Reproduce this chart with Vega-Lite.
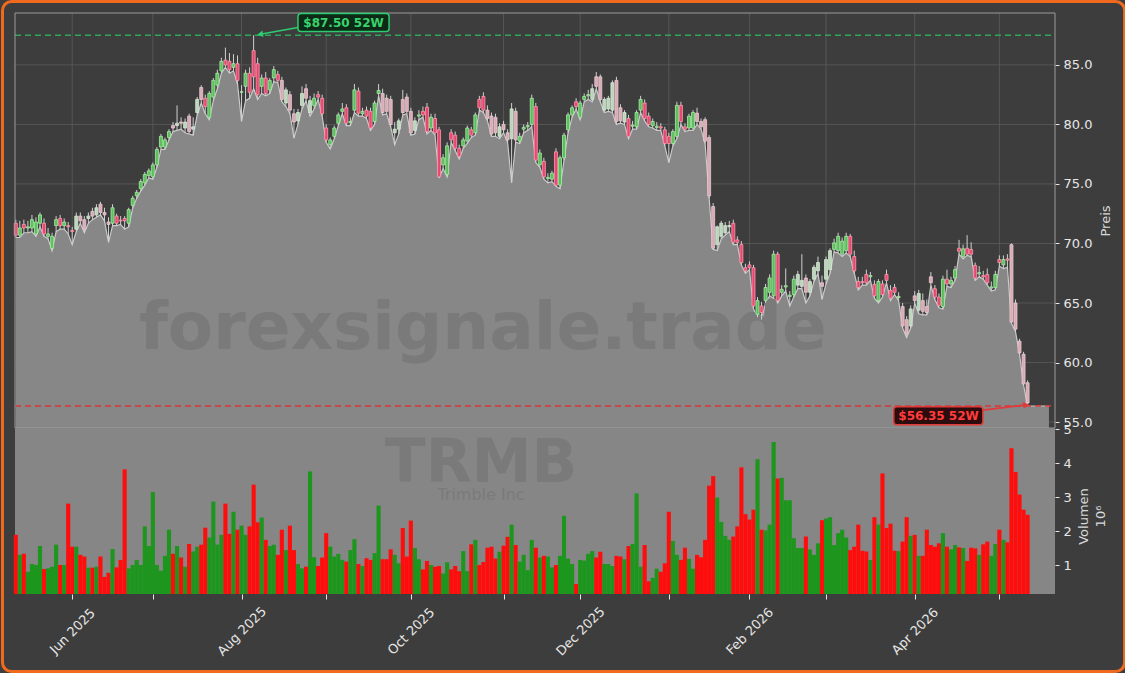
{
"$schema":"https://vega.github.io/schema/vega-lite/v6.json",
"autosize":{"type":"pad"},"padding":0,"bounds":"flush","spacing":0,
"background":"#3d3d3d",
"config":{"view":{"stroke":null},"font":"DejaVu Sans","axis":{"grid":false,"domain":false,"labelColor":"#e6e6e6","tickColor":"#e6e6e6","titleColor":"#d9d9d9","labelFontSize":13,"titleFontSize":13,"titleFontWeight":"normal","labelFont":"DejaVu Sans","titleFont":"DejaVu Sans"}},
"datasets":{
"pgrid":[{"p":55},{"p":60},{"p":65},{"p":70},{"p":75},{"p":80},{"p":85}],
"months":[{"i":14},{"i":34},{"i":56},{"i":77},{"i":98},{"i":121},{"i":140},{"i":162},{"i":182},{"i":201},{"i":223},{"i":244}],
"ohlc":[
{"i":0,"o":71.7,"h":72.0,"l":70.5,"c":70.7,"v":1.89},
{"i":1,"o":70.7,"h":71.9,"l":70.5,"c":71.3,"v":1.30},
{"i":2,"o":71.6,"h":72.0,"l":70.9,"c":71.3,"v":1.33},
{"i":3,"o":71.3,"h":71.9,"l":70.9,"c":71.4,"v":0.80},
{"i":4,"o":71.3,"h":72.4,"l":71.0,"c":72.0,"v":1.03},
{"i":5,"o":70.8,"h":72.2,"l":70.6,"c":71.8,"v":1.00},
{"i":6,"o":71.7,"h":72.6,"l":71.4,"c":72.4,"v":1.56},
{"i":7,"o":71.7,"h":72.1,"l":70.6,"c":70.8,"v":0.88},
{"i":8,"o":70.6,"h":71.3,"l":70.4,"c":70.8,"v":0.90},
{"i":9,"o":69.6,"h":70.9,"l":69.4,"c":70.6,"v":0.95},
{"i":10,"o":71.5,"h":72.3,"l":71.0,"c":72.0,"v":1.60},
{"i":11,"o":72.1,"h":72.4,"l":71.2,"c":71.5,"v":1.00},
{"i":12,"o":71.5,"h":72.1,"l":71.2,"c":71.8,"v":1.00},
{"i":13,"o":71.5,"h":71.8,"l":70.8,"c":71.4,"v":2.81},
{"i":14,"o":71.1,"h":71.4,"l":69.9,"c":71.0,"v":1.54},
{"i":15,"o":71.2,"h":72.6,"l":71.0,"c":72.3,"v":1.54},
{"i":16,"o":72.3,"h":72.6,"l":71.7,"c":71.9,"v":1.30},
{"i":17,"o":72.0,"h":72.3,"l":70.9,"c":71.2,"v":1.25},
{"i":18,"o":72.1,"h":72.6,"l":71.7,"c":72.3,"v":0.92},
{"i":19,"o":72.7,"h":73.0,"l":72.0,"c":72.3,"v":0.92},
{"i":20,"o":72.4,"h":73.3,"l":72.2,"c":73.0,"v":0.95},
{"i":21,"o":73.3,"h":73.5,"l":72.4,"c":72.6,"v":1.25},
{"i":22,"o":72.6,"h":73.0,"l":71.9,"c":72.4,"v":0.65},
{"i":23,"o":71.8,"h":72.2,"l":70.1,"c":71.6,"v":0.77},
{"i":24,"o":71.7,"h":73.3,"l":71.5,"c":73.0,"v":1.47},
{"i":25,"o":72.3,"h":72.5,"l":71.5,"c":71.7,"v":0.93},
{"i":26,"o":71.95,"h":72.3,"l":71.6,"c":71.9,"v":1.15},
{"i":27,"o":72.1,"h":72.3,"l":71.2,"c":71.9,"v":3.82},
{"i":28,"o":71.7,"h":73.0,"l":71.4,"c":72.85,"v":0.90},
{"i":29,"o":73.2,"h":74.0,"l":73.0,"c":73.8,"v":1.00},
{"i":30,"o":74.0,"h":74.5,"l":73.8,"c":74.3,"v":1.15},
{"i":31,"o":74.6,"h":75.4,"l":74.4,"c":75.2,"v":1.00},
{"i":32,"o":75.1,"h":76.0,"l":74.9,"c":75.8,"v":2.14},
{"i":33,"o":75.7,"h":76.3,"l":75.5,"c":76.1,"v":1.56},
{"i":34,"o":75.6,"h":76.8,"l":75.4,"c":76.6,"v":3.15},
{"i":35,"o":76.6,"h":78.1,"l":76.4,"c":77.9,"v":1.00},
{"i":36,"o":78.1,"h":79.2,"l":77.9,"c":79.0,"v":0.83},
{"i":37,"o":78.1,"h":78.9,"l":77.9,"c":78.7,"v":1.27},
{"i":38,"o":78.9,"h":79.6,"l":78.7,"c":79.4,"v":2.04},
{"i":39,"o":79.9,"h":80.2,"l":79.4,"c":79.7,"v":1.33},
{"i":40,"o":79.9,"h":81.6,"l":79.5,"c":80.1,"v":1.56},
{"i":41,"o":80.2,"h":80.6,"l":79.6,"c":80.1,"v":1.22},
{"i":42,"o":79.7,"h":80.5,"l":79.3,"c":80.2,"v":0.95},
{"i":43,"o":80.7,"h":80.9,"l":79.2,"c":79.4,"v":1.62},
{"i":44,"o":79.6,"h":80.6,"l":79.1,"c":79.8,"v":1.40},
{"i":45,"o":81.0,"h":82.3,"l":80.8,"c":82.1,"v":1.54},
{"i":46,"o":83.1,"h":83.3,"l":81.8,"c":82.1,"v":1.60},
{"i":47,"o":82.2,"h":82.5,"l":80.9,"c":81.5,"v":2.10},
{"i":48,"o":80.6,"h":82.8,"l":80.4,"c":82.6,"v":1.81},
{"i":49,"o":82.3,"h":83.9,"l":82.0,"c":83.7,"v":2.87},
{"i":50,"o":83.3,"h":84.6,"l":83.0,"c":84.3,"v":1.60},
{"i":51,"o":84.5,"h":85.6,"l":84.3,"c":85.3,"v":1.89},
{"i":52,"o":85.4,"h":86.45,"l":84.8,"c":85.0,"v":2.81},
{"i":53,"o":85.3,"h":86.0,"l":84.3,"c":84.6,"v":1.92},
{"i":54,"o":84.8,"h":85.9,"l":84.5,"c":85.1,"v":2.57},
{"i":55,"o":85.1,"h":85.8,"l":83.4,"c":83.7,"v":2.04},
{"i":56,"o":82.7,"h":83.3,"l":80.25,"c":82.75,"v":2.16},
{"i":57,"o":83.2,"h":84.6,"l":82.0,"c":84.3,"v":1.89},
{"i":58,"o":84.3,"h":84.8,"l":82.2,"c":82.7,"v":2.14},
{"i":59,"o":86.2,"h":87.5,"l":83.0,"c":84.0,"v":3.37},
{"i":60,"o":85.1,"h":85.6,"l":82.1,"c":82.5,"v":2.26},
{"i":61,"o":83.2,"h":84.2,"l":82.6,"c":83.9,"v":2.40},
{"i":62,"o":83.9,"h":84.4,"l":82.4,"c":82.6,"v":1.74},
{"i":63,"o":82.9,"h":83.9,"l":82.6,"c":83.7,"v":1.56},
{"i":64,"o":83.9,"h":84.9,"l":83.6,"c":84.6,"v":1.60},
{"i":65,"o":84.2,"h":84.5,"l":83.5,"c":83.7,"v":1.30},
{"i":66,"o":83.7,"h":84.0,"l":81.9,"c":82.1,"v":2.04},
{"i":67,"o":81.8,"h":83.1,"l":81.5,"c":82.9,"v":1.44},
{"i":68,"o":82.5,"h":82.8,"l":80.9,"c":81.2,"v":2.16},
{"i":69,"o":80.9,"h":81.3,"l":78.85,"c":80.2,"v":1.44},
{"i":70,"o":80.3,"h":81.3,"l":80.0,"c":81.0,"v":1.03},
{"i":71,"o":81.6,"h":83.2,"l":81.3,"c":82.6,"v":0.90},
{"i":72,"o":83.0,"h":83.4,"l":82.0,"c":82.2,"v":0.95},
{"i":73,"o":81.0,"h":82.4,"l":80.7,"c":82.0,"v":3.76},
{"i":74,"o":81.6,"h":82.6,"l":81.3,"c":82.2,"v":1.23},
{"i":75,"o":82.5,"h":82.8,"l":82.1,"c":82.3,"v":0.97},
{"i":76,"o":82.2,"h":82.5,"l":80.7,"c":80.9,"v":1.22},
{"i":77,"o":79.7,"h":80.0,"l":78.5,"c":78.7,"v":1.94},
{"i":78,"o":78.3,"h":78.9,"l":77.95,"c":78.7,"v":1.54},
{"i":79,"o":79.0,"h":79.9,"l":78.8,"c":79.7,"v":1.25},
{"i":80,"o":80.1,"h":81.0,"l":79.9,"c":80.8,"v":1.33},
{"i":81,"o":81.1,"h":81.8,"l":80.9,"c":81.3,"v":1.15},
{"i":82,"o":81.4,"h":81.7,"l":79.9,"c":80.1,"v":1.10},
{"i":83,"o":80.15,"h":80.6,"l":79.9,"c":80.25,"v":1.44},
{"i":84,"o":81.2,"h":83.4,"l":81.0,"c":82.9,"v":1.76},
{"i":85,"o":82.8,"h":83.1,"l":80.7,"c":80.95,"v":1.03},
{"i":86,"o":80.9,"h":81.4,"l":80.7,"c":81.1,"v":0.97},
{"i":87,"o":81.2,"h":81.5,"l":80.5,"c":80.7,"v":1.20},
{"i":88,"o":81.1,"h":81.4,"l":79.5,"c":79.7,"v":1.15},
{"i":89,"o":80.25,"h":82.0,"l":80.0,"c":81.8,"v":1.35},
{"i":90,"o":82.6,"h":83.4,"l":82.4,"c":82.85,"v":2.75},
{"i":91,"o":82.6,"h":83.0,"l":80.8,"c":81.0,"v":1.17},
{"i":92,"o":82.2,"h":82.5,"l":80.9,"c":81.1,"v":1.17},
{"i":93,"o":82.1,"h":82.4,"l":79.8,"c":80.0,"v":1.46},
{"i":94,"o":79.3,"h":80.2,"l":78.3,"c":79.6,"v":1.30},
{"i":95,"o":79.6,"h":80.5,"l":79.2,"c":80.3,"v":1.05},
{"i":96,"o":82.1,"h":82.9,"l":80.8,"c":81.0,"v":2.09},
{"i":97,"o":82.3,"h":82.6,"l":80.9,"c":81.1,"v":1.25},
{"i":98,"o":81.1,"h":81.4,"l":79.1,"c":79.3,"v":2.31},
{"i":99,"o":79.5,"h":80.6,"l":79.2,"c":80.3,"v":1.50},
{"i":100,"o":80.7,"h":81.2,"l":80.4,"c":80.8,"v":1.17},
{"i":101,"o":81.1,"h":81.5,"l":80.6,"c":80.8,"v":0.87},
{"i":102,"o":81.45,"h":81.8,"l":79.2,"c":79.4,"v":1.12},
{"i":103,"o":79.7,"h":80.9,"l":79.5,"c":80.6,"v":1.00},
{"i":104,"o":80.5,"h":80.9,"l":79.1,"c":79.3,"v":0.95},
{"i":105,"o":79.55,"h":79.8,"l":75.5,"c":75.6,"v":0.97},
{"i":106,"o":76.6,"h":77.5,"l":76.3,"c":77.2,"v":0.75},
{"i":107,"o":75.8,"h":78.5,"l":75.6,"c":78.2,"v":1.08},
{"i":108,"o":79.3,"h":79.6,"l":78.5,"c":78.7,"v":0.87},
{"i":109,"o":79.1,"h":79.4,"l":77.8,"c":78.0,"v":0.97},
{"i":110,"o":78.0,"h":78.3,"l":77.1,"c":77.3,"v":0.82},
{"i":111,"o":78.2,"h":78.9,"l":78.0,"c":78.7,"v":1.41},
{"i":112,"o":78.6,"h":79.9,"l":78.4,"c":79.7,"v":0.82},
{"i":113,"o":79.55,"h":79.8,"l":78.9,"c":79.1,"v":1.61},
{"i":114,"o":79.3,"h":81.0,"l":79.1,"c":80.8,"v":1.74},
{"i":115,"o":82.1,"h":82.4,"l":81.2,"c":81.4,"v":1.00},
{"i":116,"o":82.35,"h":82.7,"l":81.0,"c":81.2,"v":1.09},
{"i":117,"o":81.2,"h":81.6,"l":80.3,"c":80.5,"v":1.51},
{"i":118,"o":80.7,"h":81.0,"l":79.0,"c":79.2,"v":1.54},
{"i":119,"o":80.6,"h":80.9,"l":79.0,"c":79.3,"v":1.19},
{"i":120,"o":79.0,"h":80.1,"l":78.8,"c":79.8,"v":1.39},
{"i":121,"o":80.0,"h":80.3,"l":79.3,"c":79.55,"v":1.57},
{"i":122,"o":79.3,"h":79.6,"l":78.5,"c":78.7,"v":1.83},
{"i":123,"o":78.8,"h":81.8,"l":75.1,"c":81.3,"v":2.19},
{"i":124,"o":81.1,"h":81.4,"l":78.5,"c":78.7,"v":1.59},
{"i":125,"o":78.6,"h":79.3,"l":78.4,"c":79.0,"v":1.10},
{"i":126,"o":79.6,"h":80.0,"l":79.3,"c":79.75,"v":1.30},
{"i":127,"o":79.8,"h":80.2,"l":79.5,"c":79.9,"v":0.85},
{"i":128,"o":80.0,"h":82.5,"l":79.8,"c":82.2,"v":1.74},
{"i":129,"o":81.5,"h":81.8,"l":76.8,"c":77.0,"v":1.51},
{"i":130,"o":76.6,"h":77.9,"l":76.4,"c":77.6,"v":1.22},
{"i":131,"o":76.9,"h":77.2,"l":75.4,"c":75.6,"v":1.27},
{"i":132,"o":75.45,"h":75.9,"l":75.1,"c":75.55,"v":1.25},
{"i":133,"o":75.4,"h":76.1,"l":75.2,"c":75.9,"v":0.93},
{"i":134,"o":77.7,"h":78.0,"l":74.8,"c":74.9,"v":1.00},
{"i":135,"o":74.9,"h":77.4,"l":74.6,"c":77.2,"v":1.27},
{"i":136,"o":77.2,"h":79.3,"l":77.0,"c":79.1,"v":2.45},
{"i":137,"o":79.55,"h":81.0,"l":79.3,"c":80.8,"v":1.19},
{"i":138,"o":80.8,"h":81.6,"l":80.6,"c":81.4,"v":1.03},
{"i":139,"o":81.9,"h":82.2,"l":81.3,"c":81.5,"v":0.44},
{"i":140,"o":80.6,"h":82.0,"l":80.4,"c":81.8,"v":1.15},
{"i":141,"o":82.1,"h":82.6,"l":81.9,"c":82.35,"v":1.13},
{"i":142,"o":82.4,"h":82.9,"l":82.1,"c":82.5,"v":1.33},
{"i":143,"o":82.1,"h":83.4,"l":81.9,"c":83.0,"v":1.41},
{"i":144,"o":84.0,"h":84.4,"l":83.0,"c":83.2,"v":1.22},
{"i":145,"o":84.0,"h":84.2,"l":81.9,"c":82.1,"v":1.39},
{"i":146,"o":81.2,"h":82.3,"l":81.0,"c":82.1,"v":1.03},
{"i":147,"o":81.3,"h":82.4,"l":81.1,"c":82.2,"v":1.03},
{"i":148,"o":81.2,"h":83.7,"l":81.0,"c":83.5,"v":0.97},
{"i":149,"o":83.7,"h":84.0,"l":80.0,"c":80.25,"v":1.27},
{"i":150,"o":81.4,"h":81.7,"l":80.1,"c":80.3,"v":1.25},
{"i":151,"o":80.2,"h":81.2,"l":80.0,"c":81.0,"v":1.17},
{"i":152,"o":80.5,"h":80.8,"l":78.8,"c":79.0,"v":1.56},
{"i":153,"o":79.85,"h":80.3,"l":79.6,"c":79.95,"v":1.62},
{"i":154,"o":79.8,"h":81.2,"l":79.6,"c":81.0,"v":3.11},
{"i":155,"o":81.2,"h":82.4,"l":81.0,"c":82.1,"v":0.95},
{"i":156,"o":81.8,"h":82.1,"l":80.3,"c":80.5,"v":1.59},
{"i":157,"o":80.7,"h":81.0,"l":79.8,"c":80.0,"v":0.52},
{"i":158,"o":79.9,"h":80.5,"l":79.7,"c":80.25,"v":0.62},
{"i":159,"o":79.75,"h":80.2,"l":79.5,"c":79.85,"v":0.89},
{"i":160,"o":79.8,"h":80.1,"l":79.5,"c":79.7,"v":0.80},
{"i":161,"o":79.55,"h":79.8,"l":78.2,"c":78.4,"v":1.05},
{"i":162,"o":79.0,"h":79.3,"l":76.8,"c":78.4,"v":2.57},
{"i":163,"o":78.4,"h":79.6,"l":78.2,"c":79.4,"v":1.71},
{"i":164,"o":79.0,"h":81.9,"l":78.8,"c":81.6,"v":1.30},
{"i":165,"o":81.6,"h":81.9,"l":80.0,"c":80.25,"v":1.15},
{"i":166,"o":79.8,"h":80.1,"l":79.4,"c":79.6,"v":1.51},
{"i":167,"o":79.7,"h":80.9,"l":79.5,"c":80.7,"v":1.18},
{"i":168,"o":79.7,"h":81.2,"l":79.5,"c":81.0,"v":0.89},
{"i":169,"o":80.95,"h":81.4,"l":80.0,"c":80.25,"v":1.30},
{"i":170,"o":80.25,"h":80.5,"l":79.6,"c":79.8,"v":1.23},
{"i":171,"o":80.4,"h":80.6,"l":78.4,"c":78.6,"v":1.74},
{"i":172,"o":78.9,"h":79.1,"l":73.8,"c":74.0,"v":3.34},
{"i":173,"o":73.1,"h":73.4,"l":69.5,"c":69.6,"v":3.62},
{"i":174,"o":69.9,"h":71.5,"l":69.4,"c":71.4,"v":2.99},
{"i":175,"o":70.6,"h":71.9,"l":70.4,"c":71.7,"v":2.27},
{"i":176,"o":70.9,"h":71.8,"l":70.7,"c":71.5,"v":1.86},
{"i":177,"o":71.4,"h":71.9,"l":71.0,"c":71.5,"v":1.74},
{"i":178,"o":71.7,"h":72.0,"l":69.9,"c":70.1,"v":1.84},
{"i":179,"o":70.3,"h":70.6,"l":69.9,"c":70.1,"v":2.14},
{"i":180,"o":69.9,"h":70.2,"l":68.2,"c":68.4,"v":3.88},
{"i":181,"o":67.96,"h":68.3,"l":67.5,"c":67.7,"v":2.50},
{"i":182,"o":68.2,"h":68.5,"l":67.8,"c":67.96,"v":2.34},
{"i":183,"o":67.96,"h":68.2,"l":64.5,"c":64.75,"v":2.63},
{"i":184,"o":64.05,"h":65.5,"l":63.8,"c":65.2,"v":4.12},
{"i":185,"o":64.75,"h":65.1,"l":63.6,"c":64.2,"v":2.04},
{"i":186,"o":65.2,"h":66.6,"l":65.0,"c":66.3,"v":2.02},
{"i":187,"o":65.9,"h":67.4,"l":65.6,"c":67.1,"v":2.19},
{"i":188,"o":65.6,"h":69.4,"l":65.4,"c":69.1,"v":4.63},
{"i":189,"o":69.1,"h":69.3,"l":65.0,"c":65.2,"v":3.55},
{"i":190,"o":65.9,"h":66.5,"l":65.6,"c":66.15,"v":3.57},
{"i":191,"o":66.35,"h":67.9,"l":66.0,"c":66.45,"v":2.91},
{"i":192,"o":65.55,"h":66.0,"l":64.75,"c":65.65,"v":2.91},
{"i":193,"o":65.7,"h":67.3,"l":65.5,"c":67.0,"v":1.79},
{"i":194,"o":66.5,"h":67.7,"l":66.2,"c":67.4,"v":1.50},
{"i":195,"o":66.4,"h":69.1,"l":66.2,"c":66.9,"v":1.50},
{"i":196,"o":67.1,"h":67.4,"l":65.0,"c":65.9,"v":1.84},
{"i":197,"o":65.9,"h":67.0,"l":65.6,"c":66.8,"v":1.46},
{"i":198,"o":67.0,"h":68.2,"l":66.8,"c":68.0,"v":1.30},
{"i":199,"o":67.7,"h":68.9,"l":67.5,"c":68.4,"v":1.64},
{"i":200,"o":66.7,"h":67.3,"l":65.3,"c":66.4,"v":2.32},
{"i":201,"o":67.0,"h":68.9,"l":66.6,"c":68.65,"v":2.37},
{"i":202,"o":67.8,"h":69.6,"l":67.5,"c":69.4,"v":2.41},
{"i":203,"o":69.5,"h":70.4,"l":69.3,"c":70.05,"v":1.59},
{"i":204,"o":69.4,"h":70.9,"l":69.2,"c":70.6,"v":1.94},
{"i":205,"o":69.1,"h":70.5,"l":68.9,"c":70.2,"v":2.04},
{"i":206,"o":69.4,"h":70.9,"l":69.2,"c":70.6,"v":1.81},
{"i":207,"o":70.6,"h":70.8,"l":68.9,"c":69.1,"v":1.44},
{"i":208,"o":68.9,"h":69.4,"l":67.5,"c":67.7,"v":1.54},
{"i":209,"o":66.8,"h":67.2,"l":66.1,"c":66.3,"v":2.19},
{"i":210,"o":66.8,"h":67.2,"l":66.5,"c":66.7,"v":1.42},
{"i":211,"o":67.4,"h":67.8,"l":66.5,"c":66.7,"v":1.40},
{"i":212,"o":67.2,"h":67.6,"l":66.9,"c":67.3,"v":1.15},
{"i":213,"o":66.56,"h":66.9,"l":65.4,"c":65.6,"v":2.41},
{"i":214,"o":65.2,"h":67.0,"l":65.0,"c":66.8,"v":2.19},
{"i":215,"o":66.6,"h":66.9,"l":65.5,"c":65.7,"v":3.70},
{"i":216,"o":67.4,"h":67.8,"l":66.7,"c":66.9,"v":2.09},
{"i":217,"o":66.05,"h":66.5,"l":65.2,"c":65.4,"v":2.22},
{"i":218,"o":66.3,"h":66.6,"l":65.7,"c":65.9,"v":1.42},
{"i":219,"o":65.45,"h":65.9,"l":65.2,"c":65.55,"v":1.41},
{"i":220,"o":64.7,"h":65.0,"l":62.9,"c":63.07,"v":1.69},
{"i":221,"o":63.6,"h":63.9,"l":62.1,"c":62.4,"v":2.41},
{"i":222,"o":63.07,"h":64.8,"l":62.9,"c":64.5,"v":1.86},
{"i":223,"o":65.6,"h":66.0,"l":65.0,"c":65.2,"v":1.89},
{"i":224,"o":64.4,"h":66.1,"l":64.1,"c":65.8,"v":1.27},
{"i":225,"o":65.2,"h":65.8,"l":64.0,"c":64.3,"v":1.27},
{"i":226,"o":64.7,"h":65.3,"l":64.0,"c":64.2,"v":2.04},
{"i":227,"o":67.2,"h":67.6,"l":66.5,"c":66.7,"v":1.59},
{"i":228,"o":66.2,"h":66.5,"l":65.3,"c":65.5,"v":1.54},
{"i":229,"o":65.5,"h":65.8,"l":64.6,"c":64.8,"v":1.64},
{"i":230,"o":64.7,"h":67.3,"l":64.5,"c":67.0,"v":1.94},
{"i":231,"o":67.0,"h":67.8,"l":66.4,"c":66.6,"v":1.54},
{"i":232,"o":66.6,"h":67.2,"l":66.3,"c":66.9,"v":1.46},
{"i":233,"o":67.1,"h":68.1,"l":66.9,"c":67.8,"v":1.59},
{"i":234,"o":69.6,"h":70.3,"l":69.1,"c":69.35,"v":1.52},
{"i":235,"o":68.9,"h":69.9,"l":68.7,"c":69.55,"v":1.50},
{"i":236,"o":69.6,"h":70.7,"l":69.0,"c":69.1,"v":1.12},
{"i":237,"o":69.5,"h":70.1,"l":68.9,"c":69.1,"v":1.51},
{"i":238,"o":68.15,"h":68.4,"l":66.9,"c":67.1,"v":1.49},
{"i":239,"o":67.45,"h":68.1,"l":67.2,"c":67.55,"v":1.30},
{"i":240,"o":67.3,"h":67.7,"l":67.0,"c":67.2,"v":1.61},
{"i":241,"o":67.4,"h":67.9,"l":66.5,"c":66.7,"v":1.69},
{"i":242,"o":66.25,"h":66.8,"l":66.0,"c":66.35,"v":1.27},
{"i":243,"o":66.3,"h":67.7,"l":66.1,"c":67.4,"v":1.62},
{"i":244,"o":68.65,"h":69.0,"l":68.1,"c":68.4,"v":2.04},
{"i":245,"o":68.2,"h":69.0,"l":67.9,"c":68.65,"v":1.74},
{"i":246,"o":68.7,"h":69.1,"l":68.0,"c":68.6,"v":1.67},
{"i":247,"o":69.9,"h":70.0,"l":63.3,"c":63.4,"v":4.44},
{"i":248,"o":65.0,"h":65.3,"l":62.6,"c":62.8,"v":3.74},
{"i":249,"o":61.8,"h":62.0,"l":60.7,"c":60.8,"v":3.08},
{"i":250,"o":60.7,"h":60.9,"l":58.1,"c":58.2,"v":2.63},
{"i":251,"o":58.3,"h":58.5,"l":56.35,"c":56.6,"v":2.48},
{"i":256.3,"l":56.35}
]},
"vconcat":[
{"width":1040,"height":415,"layer":[
{"data":{"name":"pgrid"},"mark":{"type":"rule","color":"#5c5c5c","strokeWidth":0.8},
 "encoding":{"y":{"field":"p","type":"quantitative","scale":{"domain":[54.5,89.36],"zero":false,"nice":false},
   "axis":{"orient":"right","values":[55,60,65,70,75,80,85],"format":".1f","tickSize":4,"labelPadding":4,"title":"Preis","titleAngle":270,"titleBaseline":"top","titlePadding":8}},
  "x":{"datum":-0.2,"type":"quantitative","scale":{"domain":[-0.2,257.8],"zero":false,"nice":false,"padding":0},"axis":null},
  "x2":{"datum":257.8}}},
{"data":{"name":"months"},"mark":{"type":"rule","color":"#5c5c5c","strokeWidth":0.8},
 "encoding":{"x":{"field":"i","type":"quantitative","axis":null},
  "y":{"datum":54.5,"type":"quantitative"},"y2":{"datum":89.36}}},
{"data":{"name":"ohlc"},"mark":{"type":"area","color":"#878787","opacity":1,"fillOpacity":1,"line":{"color":"#cacaca","strokeWidth":1.2}},
 "encoding":{"x":{"field":"i","type":"quantitative","axis":null},"y":{"field":"l","type":"quantitative"},"y2":{"datum":54.5}}},
{"data":{"values":[{}]},"mark":{"type":"text","text":"forexsignale.trade","fontSize":66,"fontWeight":"bold","color":"#7a7a7a","align":"center","baseline":"alphabetic"},
 "encoding":{"x":{"datum":115.9,"type":"quantitative","axis":null},"y":{"datum":61.11,"type":"quantitative"}}},
{"data":{"name":"ohlc"},"transform":[{"filter":"isValid(datum.o)"}],"mark":{"type":"rule","color":"#d0d0d0","strokeWidth":1},
 "encoding":{"x":{"field":"i","type":"quantitative","axis":null},"y":{"field":"l","type":"quantitative"},"y2":{"field":"h"}}},
{"data":{"name":"ohlc"},"transform":[{"filter":"isValid(datum.o)"}],"mark":{"type":"bar","width":3,"strokeWidth":0.8,"opacity":1},
 "encoding":{"x":{"field":"i","type":"quantitative","axis":null},"y":{"field":"o","type":"quantitative"},"y2":{"field":"c"},
  "fill":{"condition":[
   {"test":"((datum.i>=15&&datum.i<=23)||(datum.i>=39&&datum.i<=46)||(datum.i>=66&&datum.i<=73)||(datum.i>=91&&datum.i<=99)||(datum.i>=117&&datum.i<=124)||(datum.i>=143&&datum.i<=151)||(datum.i>=169&&datum.i<=177)||(datum.i>=194&&datum.i<=202)||(datum.i>=220&&datum.i<=227)||(datum.i>=247&&datum.i<=251))&&datum.c<datum.o","value":"#d9abb6"},
   {"test":"(datum.i>=15&&datum.i<=23)||(datum.i>=39&&datum.i<=46)||(datum.i>=66&&datum.i<=73)||(datum.i>=91&&datum.i<=99)||(datum.i>=117&&datum.i<=124)||(datum.i>=143&&datum.i<=151)||(datum.i>=169&&datum.i<=177)||(datum.i>=194&&datum.i<=202)||(datum.i>=220&&datum.i<=227)||(datum.i>=247&&datum.i<=251)","value":"#bcd6bc"},
   {"test":"datum.c>=datum.o","value":"#5cbf5c"}],"value":"#e8476f"},
  "stroke":{"condition":[
   {"test":"((datum.i>=15&&datum.i<=23)||(datum.i>=39&&datum.i<=46)||(datum.i>=66&&datum.i<=73)||(datum.i>=91&&datum.i<=99)||(datum.i>=117&&datum.i<=124)||(datum.i>=143&&datum.i<=151)||(datum.i>=169&&datum.i<=177)||(datum.i>=194&&datum.i<=202)||(datum.i>=220&&datum.i<=227)||(datum.i>=247&&datum.i<=251))&&datum.c<datum.o","value":"#e9cad1"},
   {"test":"(datum.i>=15&&datum.i<=23)||(datum.i>=39&&datum.i<=46)||(datum.i>=66&&datum.i<=73)||(datum.i>=91&&datum.i<=99)||(datum.i>=117&&datum.i<=124)||(datum.i>=143&&datum.i<=151)||(datum.i>=169&&datum.i<=177)||(datum.i>=194&&datum.i<=202)||(datum.i>=220&&datum.i<=227)||(datum.i>=247&&datum.i<=251)","value":"#d6e8d6"},
   {"test":"datum.c>=datum.o","value":"#a8eea8"}],"value":"#ff9ab0"}}},
{"data":{"values":[{}]},"mark":{"type":"rule","color":"#2fa65a","strokeDash":[6,4],"strokeWidth":1.5},
 "encoding":{"y":{"datum":87.5,"type":"quantitative"},"x":{"datum":-0.2,"type":"quantitative","axis":null},"x2":{"datum":257.8}}},
{"data":{"values":[{}]},"mark":{"type":"rule","color":"#d93636","strokeDash":[6,4],"strokeWidth":1.5},
 "encoding":{"y":{"datum":56.35,"type":"quantitative"},"x":{"datum":-0.2,"type":"quantitative","axis":null},"x2":{"datum":257.8}}},
{"data":{"values":[{}]},"mark":{"type":"rect","fill":"transparent","stroke":"#9c9c9c","strokeWidth":1},
 "encoding":{"x":{"datum":-0.2,"type":"quantitative","axis":null},"x2":{"datum":257.8},"y":{"datum":54.5,"type":"quantitative"},"y2":{"datum":89.36}}},
{"data":{"values":[{}]},"mark":{"type":"rect","fill":"transparent","stroke":"#ef6a1f","strokeWidth":3,"cornerRadius":9},
 "encoding":{"x":{"datum":-3.301,"type":"quantitative","axis":null},"x2":{"datum":275.06},"y":{"datum":90.326,"type":"quantitative"},"y2":{"datum":34.046}}},
{"data":{"values":[{}]},"mark":{"type":"rule","color":"#2ecc71","strokeWidth":1.6},
 "encoding":{"x":{"datum":70.0,"type":"quantitative","axis":null},"x2":{"datum":61.0},"y":{"datum":88.14,"type":"quantitative"},"y2":{"datum":87.6}}},
{"data":{"values":[{}]},"mark":{"type":"point","shape":"triangle-left","filled":true,"size":45,"angle":351,"color":"#2ecc71","opacity":1},
 "encoding":{"x":{"datum":60.6,"type":"quantitative","axis":null},"y":{"datum":87.58,"type":"quantitative"}}},
{"data":{"values":[{}]},"mark":{"type":"rect","fill":"#0c2a16","stroke":"#2ecc71","strokeWidth":1.5,"cornerRadius":3},
 "encoding":{"x":{"datum":70.0,"type":"quantitative","axis":null},"x2":{"datum":92.6},"y":{"datum":89.32,"type":"quantitative"},"y2":{"datum":87.81}}},
{"data":{"values":[{}]},"mark":{"type":"text","text":"$87.50 52W","fontSize":12,"fontWeight":"bold","color":"#3ad36e","align":"center","baseline":"middle"},
 "encoding":{"x":{"datum":81.3,"type":"quantitative","axis":null},"y":{"datum":88.56,"type":"quantitative"}}},
{"data":{"values":[{}]},"mark":{"type":"rule","color":"#e03a3a","strokeWidth":1.6},
 "encoding":{"x":{"datum":239.9,"type":"quantitative","axis":null},"x2":{"datum":250.2},"y":{"datum":56.0,"type":"quantitative"},"y2":{"datum":56.42}}},
{"data":{"values":[{}]},"mark":{"type":"point","shape":"triangle-right","filled":true,"size":45,"angle":351,"color":"#e03a3a","opacity":1},
 "encoding":{"x":{"datum":250.6,"type":"quantitative","axis":null},"y":{"datum":56.44,"type":"quantitative"}}},
{"data":{"values":[{}]},"mark":{"type":"rect","fill":"#2c0c0c","stroke":"#e03a3a","strokeWidth":1.5,"cornerRadius":3},
 "encoding":{"x":{"datum":217.8,"type":"quantitative","axis":null},"x2":{"datum":239.9},"y":{"datum":56.29,"type":"quantitative"},"y2":{"datum":54.78}}},
{"data":{"values":[{}]},"mark":{"type":"text","text":"$56.35 52W","fontSize":12,"fontWeight":"bold","color":"#ff3c3c","align":"center","baseline":"middle"},
 "encoding":{"x":{"datum":228.9,"type":"quantitative","axis":null},"y":{"datum":55.54,"type":"quantitative"}}}
]},
{"width":1040,"height":166,"view":{"fill":"#868686","stroke":null},"layer":[
{"data":{"name":"ohlc"},"transform":[{"filter":"isValid(datum.o)"}],"mark":{"type":"bar","width":4.1,"opacity":1},
 "encoding":{"x":{"field":"i","type":"quantitative","scale":{"domain":[-0.2,257.8],"zero":false,"nice":false,"padding":0},
   "axis":{"orient":"bottom","values":[14,34,56,77,98,121,140,162,182,201,223,244],"labelExpr":"datum.value==14?'Jun 2025':datum.value==56?'Aug 2025':datum.value==98?'Oct 2025':datum.value==140?'Dec 2025':datum.value==182?'Feb 2026':datum.value==223?'Apr 2026':''","labelAngle":-45,"labelAlign":"center","labelBaseline":"middle","labelPadding":32,"tickSize":5,"title":null,"labelOverlap":false,"labelFlush":false,"labelBound":false}},
  "y":{"field":"v","type":"quantitative","scale":{"domain":[0.145,5.04],"zero":false,"nice":false},
   "axis":{"orient":"right","values":[1,2,3,4,5],"format":"d","tickSize":4,"labelPadding":4,"title":["Volumen","10⁶"],"titleAngle":270,"titleBaseline":"top","titleAlign":"center","titleX":22.5,"titleY":88,"titleLineHeight":17}},
  "y2":{"datum":0.145},
  "color":{"condition":{"test":"datum.c>=datum.o","value":"#1c961c"},"value":"#ff0d0d"}}},
{"data":{"values":[{}]},"mark":{"type":"text","text":"TRMB","fontSize":60,"fontWeight":"bold","color":"#7a7a7a","align":"center","baseline":"alphabetic"},
 "encoding":{"x":{"datum":115.4,"type":"quantitative"},"y":{"datum":3.46,"type":"quantitative"}}},
{"data":{"values":[{}]},"mark":{"type":"text","text":"Trimble Inc","fontSize":16,"color":"#7a7a7a","align":"center","baseline":"alphabetic"},
 "encoding":{"x":{"datum":115.4,"type":"quantitative"},"y":{"datum":2.93,"type":"quantitative"}}}
]}
]
}
